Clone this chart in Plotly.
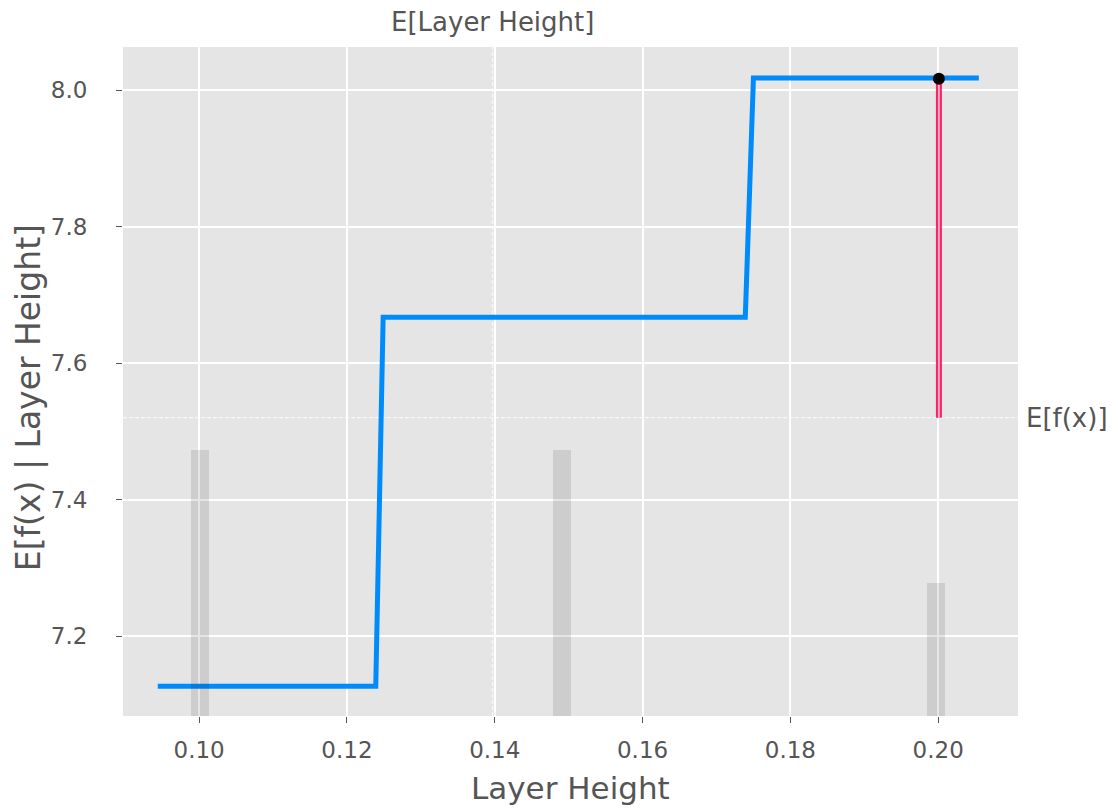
import plotly.graph_objects as go

# ---- data ----
pdp_x = [0.0944, 0.1239, 0.1249, 0.1739, 0.1750, 0.2055]
pdp_y = [7.1264, 7.1264, 7.6672, 7.6672, 8.0176, 8.0176]

hist_centers = [0.1001, 0.1491, 0.1997]
hist_counts = [2, 2, 1]
hist_width = 0.0024

expected_x = 0.1397          # E[Layer Height]
expected_fx = 7.520          # E[f(x)]
sample_x = 0.2001
sample_y = 8.0166

x_ticks = [0.10, 0.12, 0.14, 0.16, 0.18, 0.20]
y_ticks = [7.2, 7.4, 7.6, 7.8, 8.0]

x_range = [0.0897, 0.2108]
y_range = [7.083, 8.063]

BLUE = "#008bfb"
RED = "rgba(255,0,81,0.85)"
TXT = "#555555"
FONT = "DejaVu Sans"

fig = go.Figure()

# histogram (secondary axis)
fig.add_trace(go.Bar(
    x=hist_centers, y=hist_counts, width=[hist_width] * len(hist_centers),
    marker=dict(color="rgba(0,0,0,0.1)", line=dict(width=0)),
    yaxis="y2", showlegend=False, hoverinfo="skip"))

# partial dependence line
fig.add_trace(go.Scatter(
    x=pdp_x, y=pdp_y, mode="lines",
    line=dict(color=BLUE, width=5), showlegend=False))

# sample's SHAP value line (red with a light centre)
fig.add_trace(go.Scatter(
    x=[sample_x, sample_x], y=[expected_fx, sample_y], mode="lines",
    line=dict(color=RED, width=6), showlegend=False))
fig.add_trace(go.Scatter(
    x=[sample_x, sample_x], y=[expected_fx, sample_y], mode="lines",
    line=dict(color="rgba(255,215,225,0.9)", width=1.6), showlegend=False))

# sample point
fig.add_trace(go.Scatter(
    x=[sample_x], y=[sample_y], mode="markers",
    marker=dict(color="black", size=12), showlegend=False))

shapes = [
    dict(type="line", xref="x", yref="paper", x0=expected_x, x1=expected_x,
         y0=0, y1=1, line=dict(color="rgba(250,250,250,0.95)", width=1.3, dash="4px,2px"),
         layer="below"),
    dict(type="line", xref="paper", yref="y", x0=0, x1=1,
         y0=expected_fx, y1=expected_fx,
         line=dict(color="rgba(250,250,250,0.95)", width=1.3, dash="4px,2px"),
         layer="below"),
]

annotations = [
    dict(text="E[Layer Height]", x=expected_x, xref="x", y=1.0, yref="paper",
         yanchor="middle", xanchor="center", yshift=25, showarrow=False,
         font=dict(family=FONT, size=26, color=TXT)),
    dict(text="E[f(x)]", x=1.0, xref="paper", y=expected_fx, yref="y",
         xanchor="left", yanchor="middle", xshift=6, showarrow=False,
         font=dict(family=FONT, size=26, color=TXT)),
    dict(text="Layer Height", x=0.5, xref="paper", y=0, yref="paper",
         xanchor="center", yanchor="middle", yshift=-72, showarrow=False,
         font=dict(family=FONT, size=31, color=TXT)),
    dict(text="E[f(x) | Layer Height]", x=0, xref="paper", y=0.475, yref="paper",
         xanchor="center", yanchor="middle", xshift=-95, textangle=-90,
         showarrow=False, font=dict(family=FONT, size=33, color=TXT)),
]

fig.update_layout(
    width=1118, height=810,
    margin=dict(l=115, r=108, t=39, b=102, pad=0),
    paper_bgcolor="white", plot_bgcolor="#e5e5e5",
    font=dict(family=FONT, size=23, color=TXT),
    bargap=0,
    xaxis=dict(range=x_range, tickvals=x_ticks,
               ticktext=[f"{v:.2f}" for v in x_ticks],
               showgrid=True, gridcolor="white", gridwidth=1.5,
               zeroline=False, showline=False, automargin=False,
               ticks="outside", ticklen=6, tickcolor="#555555", tickwidth=1.2,
               ticklabelstandoff=7,
               tickfont=dict(family=FONT, size=23, color=TXT)),
    yaxis=dict(range=y_range, tickvals=y_ticks,
               ticktext=[f"{v:.1f}" for v in y_ticks],
               showgrid=True, gridcolor="white", gridwidth=1.5,
               zeroline=False, showline=False, automargin=False,
               ticks="outside", ticklen=6, tickcolor="#555555", tickwidth=1.2,
               ticklabelstandoff=24,
               tickfont=dict(family=FONT, size=23, color=TXT)),
    yaxis2=dict(overlaying="y", side="right", range=[0, 5.03],
                showgrid=False, showticklabels=False, zeroline=False,
                showline=False, ticks="", automargin=False),
    shapes=shapes,
    annotations=annotations,
)

fig.write_html("out.html")
